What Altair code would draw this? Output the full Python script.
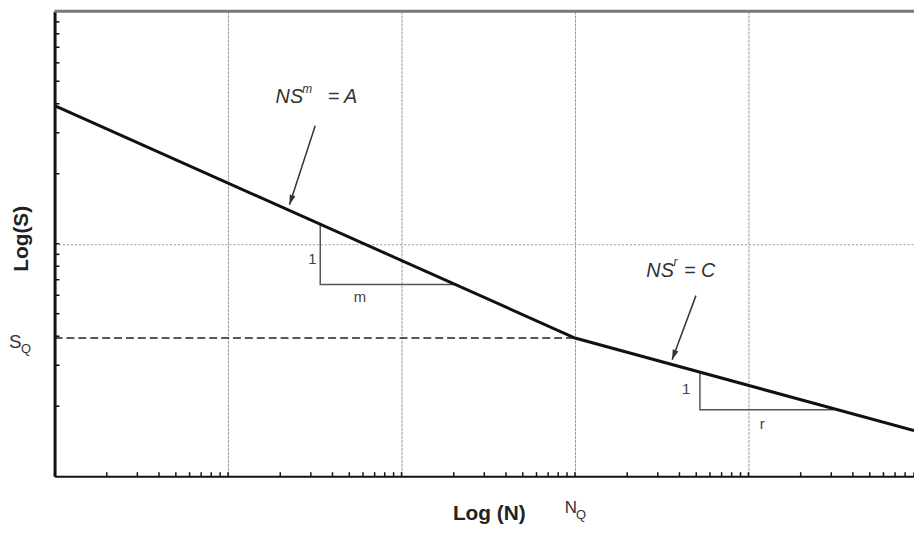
import altair as alt
import pandas as pd

FONT = "Liberation Sans"
W, H = 867, 469

# ---- data ----
curve_N = [1, 1000, 90000]
curve_S = [39.3, 3.93, 1.57]

N_Q = 1000
S_Q = 3.93

top_N = [1, 90000]
top_S = [100, 100]

decade_N = [1, 10, 100, 1000, 10000]
tick_mult = [1, 2, 3, 4, 5, 6, 7, 8, 9]
x_tick_N = [m * d for d in decade_N for m in tick_mult if m * d <= 90000]
y_tick_S = [2, 3, 4, 5, 6, 7, 8, 9, 10, 20, 30, 40, 50, 60, 70, 80, 90]

grid_N = [10, 100, 1000, 10000]
grid_S = [10]

# slope triangles: (vertical top, corner, horizontal end)
tri1_N = [34.0, 34.0, 200]
tri1_S = [12.1, 6.67, 6.67]
tri2_N = [5250, 5250, 31000]
tri2_S = [2.80, 1.93, 1.93]

# slope labels
lab_text = ["1", "m", "1", "r"]
lab_N = [30.6, 57.5, 4365, 12020]
lab_S = [8.6, 5.87, 2.36, 1.68]

# arrows (start -> tip)
arrow1 = {"N": 31.8, "S": 32.2, "N2": 22.6, "S2": 14.7}
arrow2 = {"N": 4980, "S": 5.98, "N2": 3630, "S2": 3.17}

# equation annotations: main text, superscript, right-hand side
eq1 = {"base": "NS", "sup": "m", "rhs": "= A",
       "N": 18.8, "S": 40.3, "supN": 26.8, "supS": 44.3, "rhsN": 37.5}
eq2 = {"base": "NS", "sup": "r", "rhs": "= C",
       "N": 2578, "S": 7.21, "supN": 3700, "supS": 8.05, "rhsN": 4250}

# ---- scales / axes ----
xs = alt.Scale(type="log", domain=[1, 90000], nice=False)
ys = alt.Scale(type="log", domain=[1, 100], nice=False)

x_axis = alt.Axis(values=grid_N, grid=True, ticks=False, labels=False,
                  domainColor="#111", domainWidth=2,
                  gridColor="#9a9a9a", gridWidth=1, gridDash=[3, 1],
                  title="Log (N)", titleFont=FONT, titleFontSize=21,
                  titleFontWeight="bold", titleColor="#222",
                  titleX=438, titleY=44, titleAlign="center",
                  titleBaseline="alphabetic")
y_axis = alt.Axis(values=grid_S, grid=True, ticks=False, labels=False,
                  domainColor="#111", domainWidth=3,
                  gridColor="#9a9a9a", gridWidth=1, gridDash=[2, 2],
                  title="Log(S)", titleFont=FONT, titleFontSize=21,
                  titleFontWeight="bold", titleColor="#222",
                  titleAngle=270, titleX=-33, titleY=229,
                  titleAlign="center", titleBaseline="middle")


def X(f="N"):
    return alt.X(f, type="quantitative", scale=xs, axis=x_axis)


def Y(f="S"):
    return alt.Y(f, type="quantitative", scale=ys, axis=y_axis)


layers = []

# top border
layers.append(alt.Chart(pd.DataFrame({"N": top_N, "S": top_S}))
              .mark_line(color="#7a7a7a", strokeWidth=3)
              .encode(x=X(), y=Y()))

# x minor ticks (inward)
layers.append(alt.Chart(pd.DataFrame({"N": x_tick_N}))
              .mark_rule(color="#111", strokeWidth=1.5)
              .encode(x=X(), y=alt.value(H - 4), y2=alt.value(H)))

# y minor ticks (inward)
layers.append(alt.Chart(pd.DataFrame({"S": y_tick_S}))
              .mark_rule(color="#111", strokeWidth=1.5)
              .encode(y=Y(), x=alt.value(0), x2=alt.value(5)))

# dashed S_Q line
layers.append(alt.Chart(pd.DataFrame({"N": [1, N_Q], "S": [S_Q, S_Q]}))
              .mark_line(color="#222", strokeWidth=1.5, strokeDash=[8, 4])
              .encode(x=X(), y=Y()))

# slope triangles
tri = pd.DataFrame({
    "N": tri1_N + tri2_N,
    "S": tri1_S + tri2_S,
    "t": ["a"] * 3 + ["b"] * 3,
    "k": [0, 1, 2] * 2,
})
layers.append(alt.Chart(tri)
              .mark_line(color="#555", strokeWidth=1.5)
              .encode(x=X(), y=Y(), detail="t:N", order="k:Q"))

# main curve
layers.append(alt.Chart(pd.DataFrame({"N": curve_N, "S": curve_S}))
              .mark_line(color="#111", strokeWidth=3)
              .encode(x=X(), y=Y()))

# slope labels
layers.append(alt.Chart(pd.DataFrame({"N": lab_N, "S": lab_S, "t": lab_text}))
              .mark_text(font=FONT, fontSize=15, color="#444",
                         align="center", baseline="middle")
              .encode(x=X(), y=Y(), text="t:N"))

# arrows
ARROW = "M0,0 L-0.3,-1 L0.3,-1 Z"
for a, ang in [(arrow1, 18), (arrow2, 20)]:
    d = pd.DataFrame([a])
    layers.append(alt.Chart(d).mark_rule(color="#333", strokeWidth=1.5)
                  .encode(x=X("N"), y=Y("S"), x2="N2", y2="S2"))
    layers.append(alt.Chart(d).mark_point(shape=ARROW, filled=True,
                                          color="#333", size=400,
                                          opacity=1, angle=ang)
                  .encode(x=X("N2"), y=Y("S2")))

# equations
for e in [eq1, eq2]:
    d = pd.DataFrame([e])
    layers.append(alt.Chart(d).mark_text(font=FONT, fontSize=20,
                                         fontStyle="italic", color="#333",
                                         align="left", baseline="alphabetic")
                  .encode(x=X("N"), y=Y("S"), text="base:N"))
    layers.append(alt.Chart(d).mark_text(font=FONT, fontSize=12,
                                         fontStyle="italic", color="#333",
                                         align="left", baseline="alphabetic")
                  .encode(x=X("supN"), y=Y("supS"), text="sup:N"))
    layers.append(alt.Chart(d).mark_text(font=FONT, fontSize=20,
                                         fontStyle="italic", color="#333",
                                         align="left", baseline="alphabetic")
                  .encode(x=X("rhsN"), y=Y("S"), text="rhs:N"))

# N_Q label below the axis
nq = pd.DataFrame({"N": [N_Q], "a": ["N"], "b": ["Q"]})
layers.append(alt.Chart(nq).mark_text(font=FONT, fontSize=17, color="#333",
                                      align="right", baseline="alphabetic",
                                      dx=2)
              .encode(x=X(), y=alt.value(H + 37), text="a:N"))
layers.append(alt.Chart(nq).mark_text(font=FONT, fontSize=13, color="#333",
                                      align="left", baseline="alphabetic",
                                      dx=1)
              .encode(x=X(), y=alt.value(H + 43), text="b:N"))

# S_Q label left of the axis
sq = pd.DataFrame({"S": [S_Q], "a": ["S"], "b": ["Q"]})
layers.append(alt.Chart(sq).mark_text(font=FONT, fontSize=19, color="#333",
                                      align="left", baseline="alphabetic",
                                      dy=10)
              .encode(x=alt.value(-46), y=Y(), text="a:N"))
layers.append(alt.Chart(sq).mark_text(font=FONT, fontSize=13, color="#333",
                                      align="left", baseline="alphabetic",
                                      dy=15)
              .encode(x=alt.value(-34), y=Y(), text="b:N"))

chart = (alt.layer(*layers)
         .properties(width=W, height=H,
                     autosize=alt.AutoSizeParams(type="none"),
                     padding={"left": 47, "top": 1, "right": 0, "bottom": 50})
         .configure_view(strokeWidth=0)
         .configure(background="white"))

chart.save("out.html", embed_options={"renderer": "svg", "actions": False})
